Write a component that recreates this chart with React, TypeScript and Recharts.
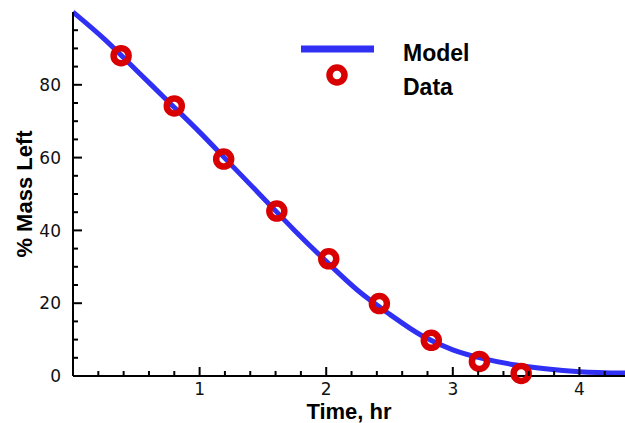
import { ComposedChart, Line, Scatter, XAxis, YAxis, Legend } from 'recharts';

// model curve
const modelTime = [0, 0.25, 0.5, 0.75, 1.0, 1.25, 1.5, 1.75, 2.0, 2.25, 2.5, 2.75, 3.0, 3.25, 3.5, 3.75, 4.0, 4.36];
const modelMass = [100, 92.5, 84, 75.5, 67, 58, 49, 40, 31.5, 23.5, 17, 11.2, 7.2, 4.7, 3.0, 1.9, 1.2, 0.8];

// measured points
const dataTime = [0.38, 0.8, 1.19, 1.61, 2.02, 2.42, 2.83, 3.21, 3.54];
const dataMass = [88, 74.2, 59.6, 45.3, 32.2, 19.9, 9.8, 4.0, 0.7];

const xTicks = [0, 0.2, 0.4, 0.6, 0.8, 1, 1.2, 1.4, 1.6, 1.8, 2, 2.2, 2.4, 2.6, 2.8, 3, 3.2, 3.4, 3.6, 3.8, 4, 4.2];
const xLabels = [1, 2, 3, 4];
const yTicks = [0, 5, 10, 15, 20, 25, 30, 35, 40, 45, 50, 55, 60, 65, 70, 75, 80, 85, 90, 95];
const yLabels = [0, 20, 40, 60, 80];

const modelRows = modelTime.map((t, i) => ({ t, m: modelMass[i] }));
const dataRows = dataTime.map((t, i) => ({ t, m: dataMass[i] }));

const BLUE = '#3030f4';
const RED = '#d80000';
const tickFont = { fontFamily: '"DejaVu Sans", sans-serif', fontSize: 17, fill: '#111' };
const titleFont = { fontFamily: '"Liberation Sans", Arial, sans-serif', fontSize: 22, fontWeight: 700, fill: '#000' };
const legendFont = { ...titleFont, fontSize: 23 };

const near = (a: number, b: number) => Math.abs(a - b) < 1e-6;

function XTick(props: any) {
  const { x, y, payload } = props;
  const v = payload.value as number;
  if (near(v, 0)) return null;
  const major = xLabels.some((l) => near(l, v));
  return (
    <g>
      <line x1={x} x2={x} y1={y} y2={y - (major ? 9 : 5)} stroke="#000" strokeWidth={2} />
      {major && (
        <text x={x} y={y + 19} textAnchor="middle" {...tickFont}>
          {Math.round(v)}
        </text>
      )}
    </g>
  );
}

function YTick(props: any) {
  const { x, y, payload } = props;
  const v = payload.value as number;
  const major = yLabels.includes(v);
  return (
    <g>
      {v > 0 && <line x1={x} x2={x + (major ? 9 : 5)} y1={y} y2={y} stroke="#000" strokeWidth={2} />}
      {major && (
        <text x={x - 12} y={y + 6.2} textAnchor="end" {...tickFont}>
          {v}
        </text>
      )}
    </g>
  );
}

function DataMarker(props: any) {
  const { cx, cy } = props;
  return <circle cx={cx} cy={cy} r={7.5} fill="none" stroke={RED} strokeWidth={6.5} />;
}

function LegendBox() {
  return (
    <svg width={200} height={80} style={{ display: 'block' }}>
      <line x1={11} x2={84} y1={19} y2={19} stroke={BLUE} strokeWidth={7} />
      <text x={113} y={31} {...legendFont}>Model</text>
      <circle cx={47} cy={45} r={7.5} fill="none" stroke={RED} strokeWidth={6.5} />
      <text x={113} y={65} {...legendFont}>Data</text>
    </svg>
  );
}

export default function App() {
  return (
    <div style={{ position: 'absolute', left: 0, top: 0, background: '#fff' }}>
      <ComposedChart width={625} height={423} margin={{ top: 12, right: 0, bottom: 0, left: 0 }}>
        <XAxis
          dataKey="t"
          type="number"
          domain={[0, 4.36]}
          ticks={xTicks}
          interval={0}
          tickSize={0}
          tickMargin={0}
          tickLine={false}
          tick={<XTick />}
          axisLine={{ stroke: '#000', strokeWidth: 2 }}
          height={47}
          allowDataOverflow
          label={(p: any) => {
            const vb = p.viewBox;
            return (
              <text x={vb.x + vb.width / 2} y={vb.y + 43} textAnchor="middle" {...titleFont}>
                Time, hr
              </text>
            );
          }}
        />
        <YAxis
          dataKey="m"
          type="number"
          domain={[0, 100]}
          ticks={yTicks}
          interval={0}
          tickSize={0}
          tickMargin={0}
          tickLine={false}
          tick={<YTick />}
          axisLine={{ stroke: '#000', strokeWidth: 2 }}
          width={73}
          label={(p: any) => {
            const vb = p.viewBox;
            const cx = vb.x + 32;
            const cy = vb.y + vb.height / 2;
            return (
              <text x={cx} y={cy} transform={`rotate(-90 ${cx} ${cy})`} textAnchor="middle" {...titleFont}>
                % Mass Left
              </text>
            );
          }}
        />
        <Legend
          layout="vertical"
          align="center"
          verticalAlign="middle"
          wrapperStyle={{ top: 30, left: 290, width: 200 }}
          content={() => <LegendBox />}
        />
        <Line
          data={modelRows}
          dataKey="m"
          type="monotone"
          stroke={BLUE}
          strokeWidth={5}
          dot={false}
          activeDot={false}
          isAnimationActive={false}
        />
        <Scatter data={dataRows} dataKey="m" shape={<DataMarker />} isAnimationActive={false} />
      </ComposedChart>
    </div>
  );
}
